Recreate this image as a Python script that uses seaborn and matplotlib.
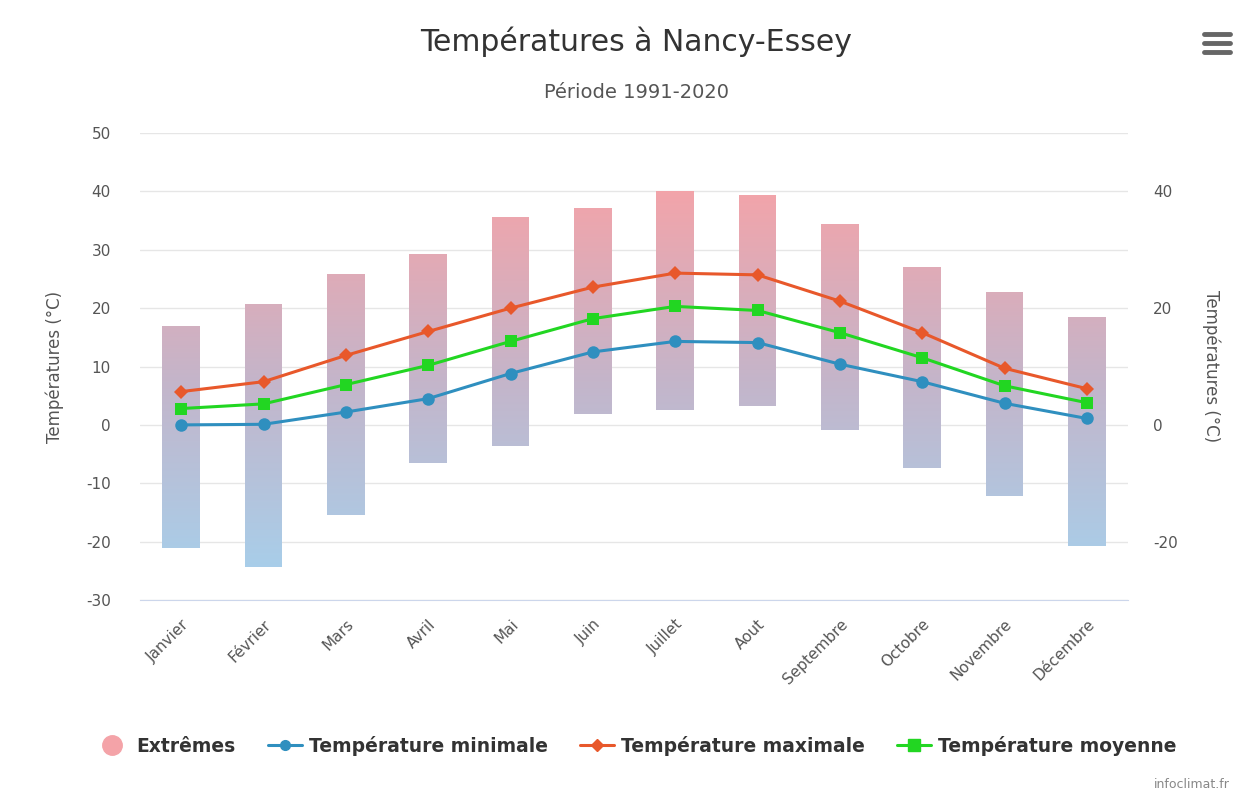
import numpy as np
import pandas as pd
import matplotlib
matplotlib.use("Agg")
import matplotlib.pyplot as plt
import seaborn as sns
from matplotlib.path import Path
from matplotlib.patches import PathPatch
from matplotlib.lines import Line2D
from matplotlib.colors import LinearSegmentedColormap

# ---- data ----
months = ["Janvier", "Février", "Mars", "Avril", "Mai", "Juin", "Juillet",
          "Aout", "Septembre", "Octobre", "Novembre", "Décembre"]
extreme_low = [-21.1, -24.4, -15.5, -6.5, -3.7, 1.9, 2.5, 3.2, -0.9, -7.4, -12.2, -20.8]
extreme_high = [16.9, 20.7, 25.9, 29.2, 35.6, 37.1, 40.0, 39.3, 34.4, 27.1, 22.7, 18.4]
t_min = [0.0, 0.1, 2.2, 4.5, 8.8, 12.5, 14.3, 14.1, 10.4, 7.4, 3.7, 1.1]
t_max = [5.7, 7.4, 11.9, 16.0, 20.0, 23.6, 26.0, 25.7, 21.2, 15.8, 9.7, 6.2]
t_mean = [2.8, 3.6, 6.9, 10.2, 14.3, 18.2, 20.3, 19.6, 15.8, 11.5, 6.7, 3.8]
left_ticks = [-30, -20, -10, 0, 10, 20, 30, 40, 50]
right_ticks = [-20, 0, 20, 40]

BLUE = "#2f8fbf"
ORANGE = "#e8582b"
GREEN = "#22d622"
PINK = "#f4a3a8"
TXT = "#555555"

sns.set_style("white")
plt.rcParams["font.family"] = ["DejaVu Sans"]

fig = plt.figure(figsize=(12.4, 7.96), dpi=100)
ax = fig.add_axes([0.1129, 0.2462, 0.9097 - 0.1129, 0.8329 - 0.2462])

x = np.arange(len(months))
ylo, yhi = -30, 50

# ---- range bars with a vertical gradient (pink top -> blue bottom) ----
height = np.array(extreme_high) - np.array(extreme_low)
bars = ax.bar(x, height, bottom=extreme_low, width=0.46, color="none", edgecolor="none")
paths = [b.get_path().transformed(b.get_patch_transform()) for b in bars]
clip = PathPatch(Path.make_compound_path(*paths), transform=ax.transData,
                 facecolor="none", edgecolor="none")
ax.add_patch(clip)
cmap = LinearSegmentedColormap.from_list("ext", ["#a6d0ec", "#c4b5ca", "#f5a3a8"])
grad = np.linspace(0, 1, 256).reshape(-1, 1)
im = ax.imshow(grad, extent=[-0.5, 11.5, -27, 42], origin="lower", aspect="auto",
               cmap=cmap, vmin=0, vmax=1, zorder=1)
im.set_clip_path(clip)

# ---- lines ----
df = pd.DataFrame({"x": x, "min": t_min, "max": t_max, "mean": t_mean})
sns.lineplot(data=df, x="x", y="max", ax=ax, color=ORANGE, lw=2.2, marker="D",
             markersize=7, markeredgewidth=0, zorder=3)
sns.lineplot(data=df, x="x", y="mean", ax=ax, color=GREEN, lw=2.2, marker="s",
             markersize=9, markeredgewidth=0, zorder=4)
sns.lineplot(data=df, x="x", y="min", ax=ax, color=BLUE, lw=2.2, marker="o",
             markersize=9, markeredgewidth=0, zorder=3)

ax.set_xlim(-0.5, 11.5)
ax.set_ylim(ylo, yhi)
ax.set_yticks(left_ticks)
ax.set_yticklabels([str(t) for t in left_ticks], color=TXT, fontsize=11)
ax.grid(axis="y", color="#e6e6e6", lw=1)
ax.set_axisbelow(True)
ax.set_xticks(x)
ax.set_xticklabels(months, rotation=45, ha="right", rotation_mode="anchor",
                   color=TXT, fontsize=11)
ax.set_xticks(np.arange(-0.5, 12, 1), minor=True)
ax.tick_params(axis="x", which="major", length=0, pad=12)
ax.tick_params(axis="x", which="minor", length=10, color="#ccd6eb", width=1)
ax.tick_params(axis="y", length=0, pad=21)
for s in ["top", "right", "left"]:
    ax.spines[s].set_visible(False)
ax.spines["bottom"].set_color("#ccd6eb")
ax.set_xlabel("")
ax.set_ylabel("Températures (°C)", color=TXT, fontsize=12, labelpad=16)

# ---- right axis ----
ax2 = ax.twinx()
ax2.set_ylim(ylo, yhi)
ax2.set_yticks(right_ticks)
ax2.set_yticklabels([str(t) for t in right_ticks], color=TXT, fontsize=11)
ax2.tick_params(axis="y", length=0, pad=18)
for s in ax2.spines.values():
    s.set_visible(False)
ax2.set_ylabel("Températures (°C)", color=TXT, fontsize=12, rotation=270, labelpad=31)

# ---- titles ----
fig.text(0.513, 1 - 42 / 796, "Températures à Nancy-Essey", ha="center", va="center",
         fontsize=21.5, color="#333333")
fig.text(0.513, 1 - 93 / 796, "Période 1991-2020", ha="center", va="center",
         fontsize=14, color=TXT)

# menu icon
for yy in [34, 43, 52]:
    fig.add_artist(Line2D([1204 / 1240, 1230 / 1240], [1 - yy / 796] * 2,
                          color="#666666", lw=3.5, solid_capstyle="round"))

# ---- legend ----
handles = [
    Line2D([], [], ls="none", marker="o", markersize=14, color=PINK),
    Line2D([], [], color=BLUE, lw=2.2, marker="o", markersize=7),
    Line2D([], [], color=ORANGE, lw=2.2, marker="D", markersize=6),
    Line2D([], [], color=GREEN, lw=2.2, marker="s", markersize=8),
]
labels = ["Extrêmes", "Température minimale", "Température maximale", "Température moyenne"]
fig.legend(handles, labels, loc="center", bbox_to_anchor=(0.513, 1 - 746 / 796), ncol=4,
           frameon=False, handlelength=1.8, columnspacing=1.7, handletextpad=0.4,
           prop={"weight": "bold", "size": 13.5}, labelcolor="#333333")

fig.text(1230 / 1240, 1 - 785 / 796, "infoclimat.fr", ha="right", va="center",
         fontsize=9, color="#888888")

fig.savefig("out.png", dpi=100, facecolor="white")
